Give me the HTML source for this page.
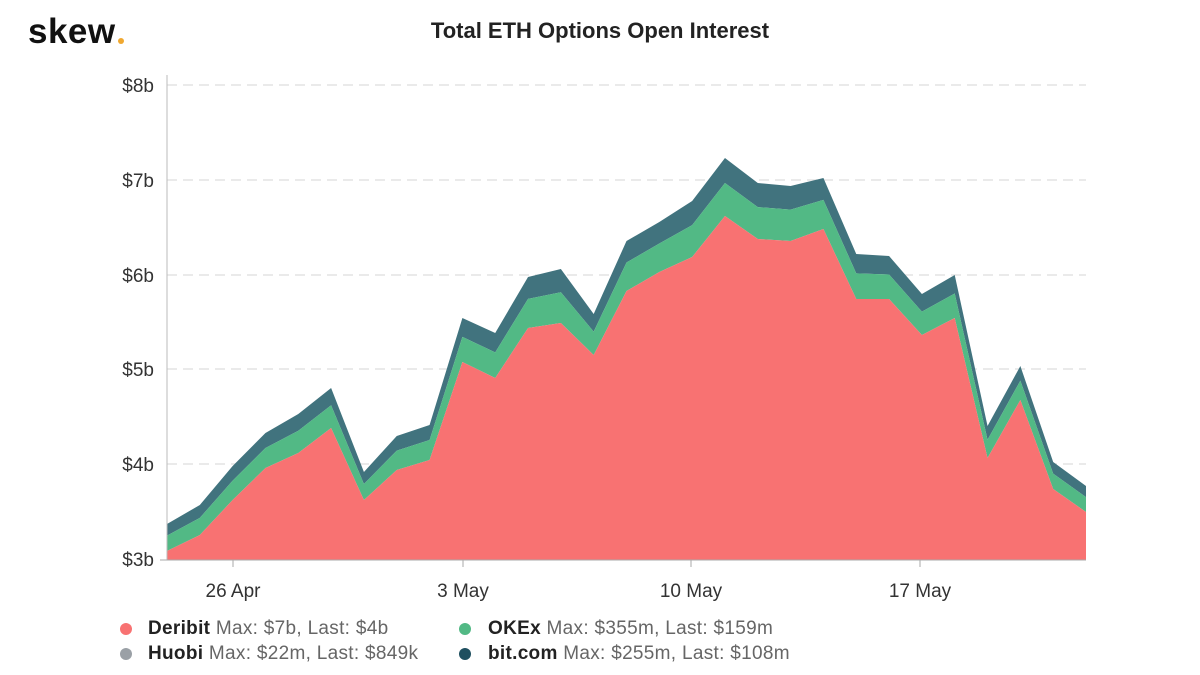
<!DOCTYPE html><html><head><style>body{margin:0;background:#fff;font-family:"Liberation Sans",sans-serif}</style></head><body>
<svg width="1200" height="670" xmlns="http://www.w3.org/2000/svg">
<text x="28" y="43" font-size="35" font-weight="bold" fill="#111" font-family="Liberation Sans" letter-spacing="0.5">skew</text><circle cx="121" cy="41" r="3" fill="#f0a830"/>
<text x="600" y="38" font-size="22" font-weight="bold" text-anchor="middle" fill="#222">Total ETH Options Open Interest</text>
<g stroke="#e4e4e4" stroke-dasharray="10,6" stroke-width="1.5">
<line x1="167" x2="1086" y1="85" y2="85"/><line x1="167" x2="1086" y1="180" y2="180"/><line x1="167" x2="1086" y1="275" y2="275"/><line x1="167" x2="1086" y1="369" y2="369"/><line x1="167" x2="1086" y1="464" y2="464"/></g>
<g font-size="19" fill="#333" text-anchor="end"><text x="154" y="92">$8b</text><text x="154" y="187">$7b</text><text x="154" y="282">$6b</text><text x="154" y="376">$5b</text><text x="154" y="471">$4b</text><text x="154" y="566">$3b</text></g>
<g id="areas"></g>
<line x1="167" y1="75" x2="167" y2="560" stroke="#bbb"/>
<line x1="160" y1="560" x2="1086" y2="560" stroke="#aaa"/>
<g stroke="#aaa"><line x1="233" x2="233" y1="560" y2="567"/><line x1="463" x2="463" y1="560" y2="567"/><line x1="691" x2="691" y1="560" y2="567"/><line x1="920" x2="920" y1="560" y2="567"/></g>
<g font-size="19" fill="#333" text-anchor="middle"><text x="233" y="597">26 Apr</text><text x="463" y="597">3 May</text><text x="691" y="597">10 May</text><text x="920" y="597">17 May</text></g>
<g font-size="19" fill="#666" letter-spacing="0.3">
<circle cx="126" cy="629" r="6" fill="#f87272"/><text x="148" y="634"><tspan fill="#222" font-weight="bold">Deribit</tspan> Max: $7b, Last: $4b</text>
<circle cx="465" cy="629" r="6" fill="#52b985"/><text x="488" y="634"><tspan fill="#222" font-weight="bold">OKEx</tspan> Max: $355m, Last: $159m</text>
<circle cx="126" cy="654" r="6" fill="#9aa0a6"/><text x="148" y="659"><tspan fill="#222" font-weight="bold">Huobi</tspan> Max: $22m, Last: $849k</text>
<circle cx="465" cy="654" r="6" fill="#1f5060"/><text x="488" y="659"><tspan fill="#222" font-weight="bold">bit.com</tspan> Max: $255m, Last: $108m</text>
</g>
</svg>
<script>
var d=[551,535,500,468,453,428,500,470,460,362,378,328,323,355,291,272,257,216,239,241,229,299,299,335,318,458,400,489,512];
var t=[524,505,466,433,414,388,472,436,425,318,333,277,269,314,241,222,201,158,183,186,178,254,256,294,275,426,366,462,486];
function x(i){return 167+i*(919/28)}
function poly(top,bot,c){var p=[];for(var i=0;i<top.length;i++)p.push(x(i)+','+top[i]);for(var i=bot.length-1;i>=0;i--)p.push(x(i)+','+bot[i]);return '<polygon points="'+p.join(' ')+'" fill="'+c+'"/>'}
var o=d.map(function(v,i){return v-0.57*(v-t[i])});
var b=d.map(function(){return 560});
document.getElementById('areas').innerHTML=poly(t,o,'#41737e')+poly(o,d,'#52b985')+poly(d,b,'#f87272');
</script>
</body></html>
